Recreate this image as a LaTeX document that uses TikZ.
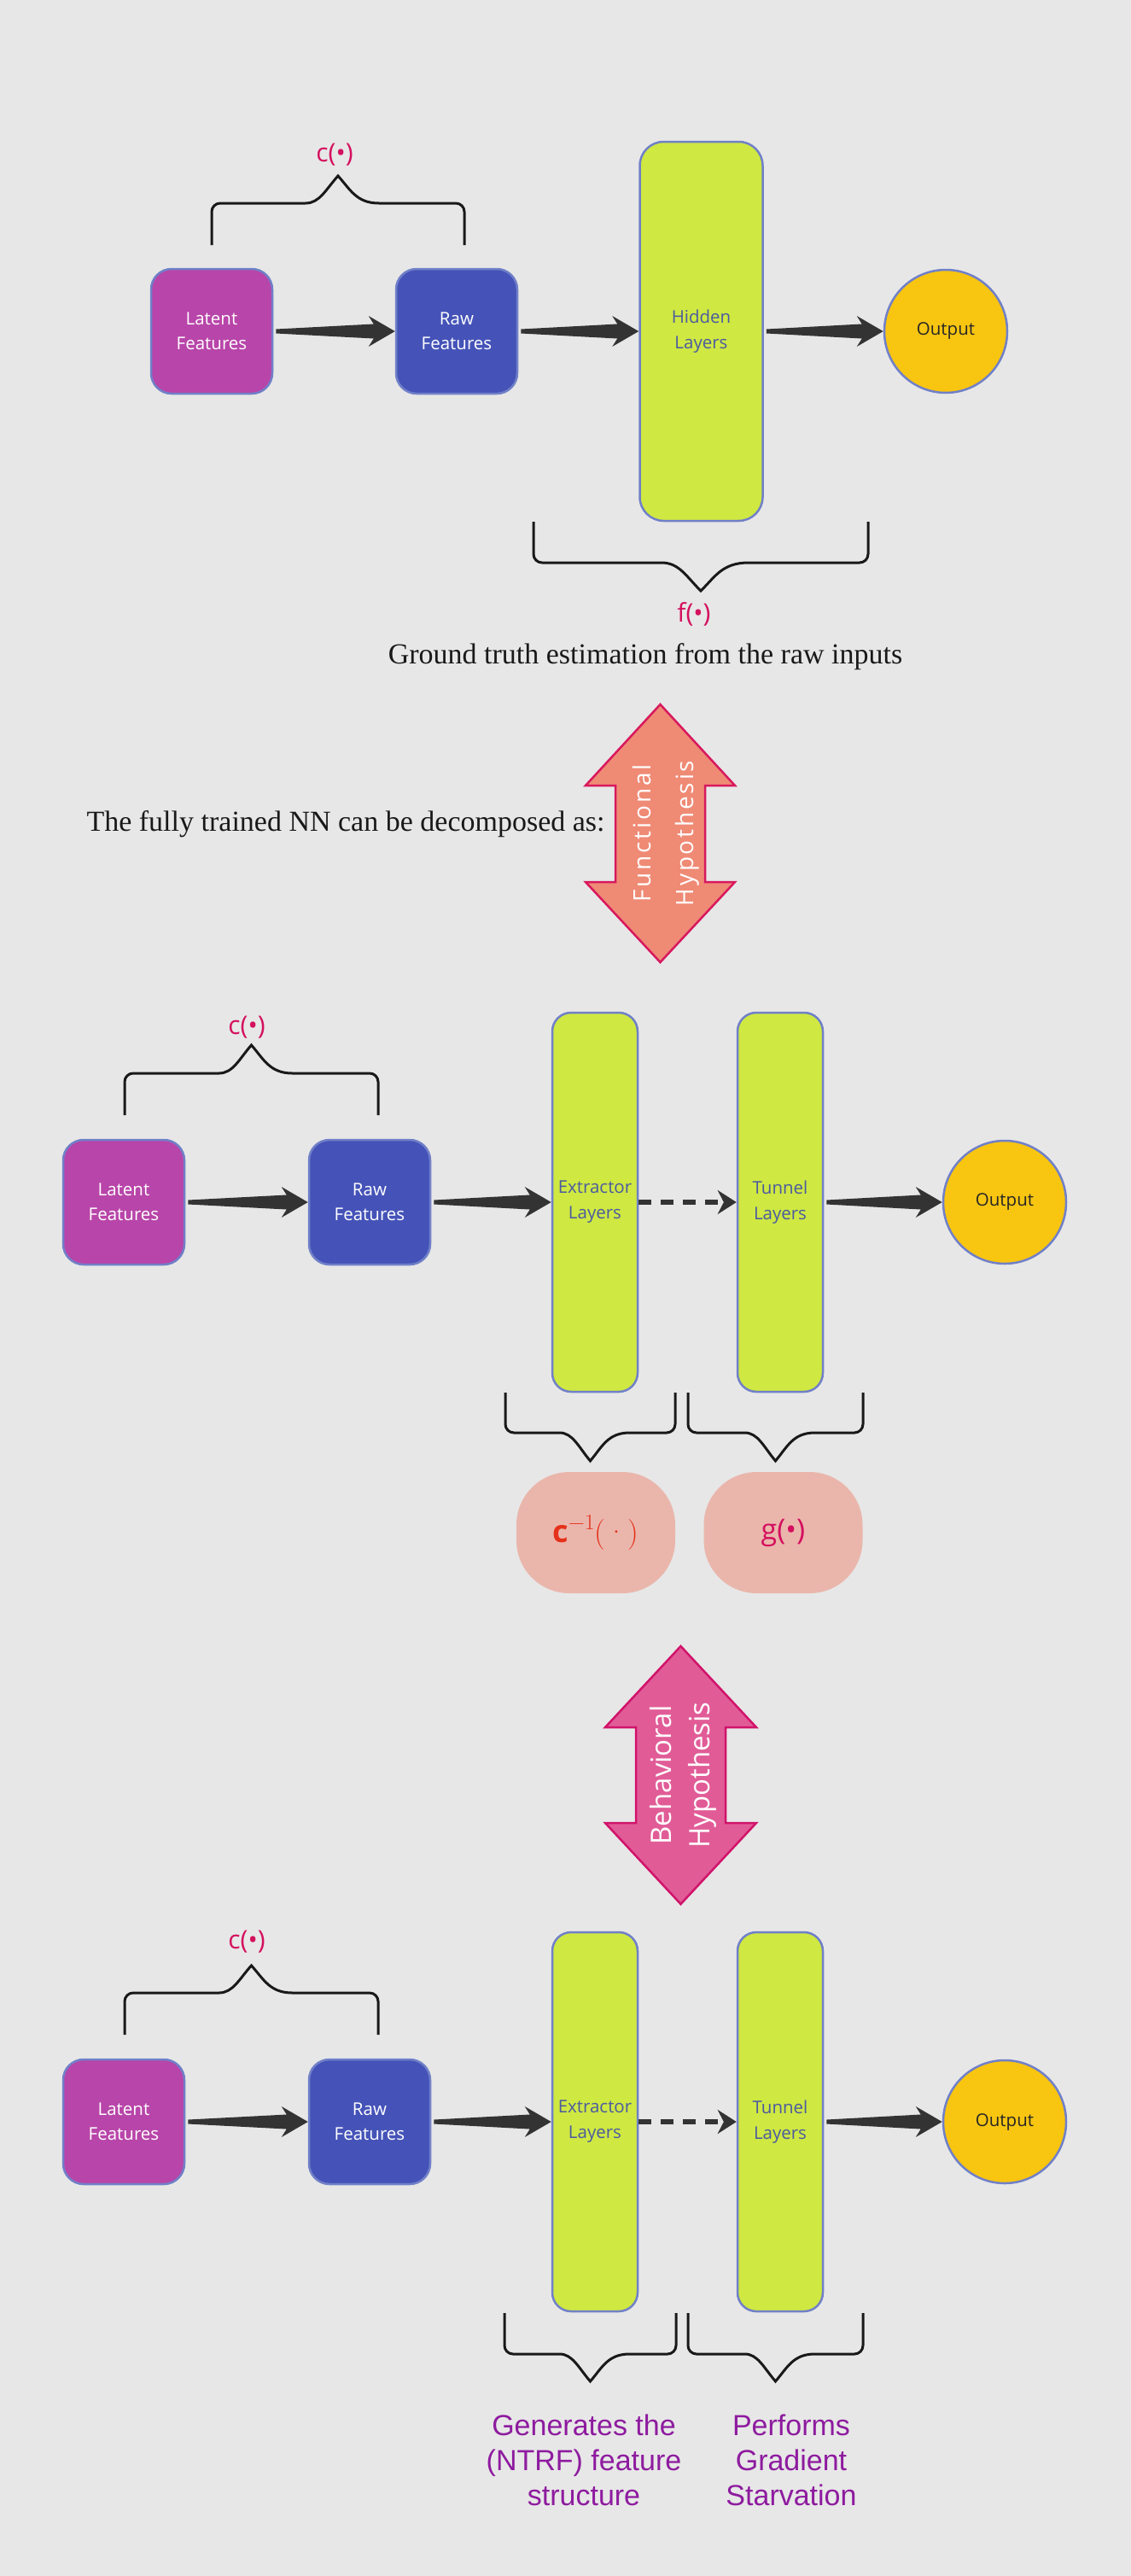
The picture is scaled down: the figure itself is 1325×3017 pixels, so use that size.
\documentclass[tikz,border=0pt]{standalone}
\usepackage{fontspec}
\usetikzlibrary{arrows.meta,calc}
\newfontfamily\boxfont{Open Sans}
\newfontfamily\hypfont[LetterSpace=10]{Open Sans}
\newfontfamily\notefont{Liberation Sans}
\newfontfamily\textserif{Liberation Serif}
\definecolor{bg}{HTML}{E7E7E7}
\definecolor{latentfill}{HTML}{B845A9}
\definecolor{rawfill}{HTML}{4553B8}
\definecolor{limefill}{HTML}{CFE842}
\definecolor{outfill}{HTML}{F8C511}
\definecolor{edge}{HTML}{7080C8}
\definecolor{layertext}{HTML}{4A5AA0}
\definecolor{arrowgray}{HTML}{333333}
\definecolor{fnlabel}{HTML}{D4105E}
\definecolor{funcfill}{HTML}{EF8A75}
\definecolor{funcedge}{HTML}{D8185E}
\definecolor{behavfill}{HTML}{E15C97}
\definecolor{behavedge}{HTML}{D1136A}
\definecolor{blobfill}{HTML}{EAB6AC}
\definecolor{invred}{HTML}{E5311A}
\definecolor{notepurple}{HTML}{8E1B9F}
\tikzset{
  latent/.style={rounded corners=24, fill=latentfill, draw=edge, line width=2.5, minimum width=142, minimum height=146, text=white, align=center, font=\boxfont\fontsize{20.5}{29}\selectfont},
  raw/.style={latent, fill=rawfill},
  layer/.style={rounded corners=22, fill=limefill, draw=edge, line width=2.5, minimum width=100, minimum height=444, text=layertext, align=center, font=\boxfont\fontsize{20.5}{30}\selectfont},
  output/.style={circle, fill=outfill, draw=edge, line width=2.5, minimum size=144, inner sep=0, text=black!85, font=\boxfont\fontsize{20.5}{29}\selectfont},
  fnlab/.style={text=fnlabel, font=\boxfont\fontsize{30}{36}\selectfont},
  blob/.style={rounded corners=62, fill=blobfill, minimum width=186, minimum height=142},
  bracepen/.style={draw=black!90, line width=3},
  dasharrow/.style={draw=arrowgray, line width=5.5, dash pattern=on 15pt off 11pt, -{Stealth[length=22pt, width=28pt]}},
  serifline/.style={font=\textserif\fontsize{34}{40}\selectfont, text=black!90},
  note/.style={text=notepurple, align=center, font=\notefont\fontsize{34}{41}\selectfont}
}
% tapered arrow from node #1 to node #2
\newcommand\fatarrow[2]{%
  \fill[arrowgray] ($(#1.east)+(3,2.5)$) -- ($(#2.west)+(-25,8.5)$) -- ($(#2.west)+(-31,18)$) -- (#2.west)
    -- ($(#2.west)+(-31,-18)$) -- ($(#2.west)+(-25,-8.5)$) -- ($(#1.east)+(3,-2.5)$) -- cycle;}
% brace: x1, x2, leg end, line, tip, half width of the bend
\newcommand\curlybrace[6]{%
  \draw[bracepen] (#1,#3) [rounded corners=10] -- (#1,#4) -- ({(#1+#2)/2-#6},#4) [sharp corners]
    .. controls ({(#1+#2)/2-0.45*#6},#4) and ({(#1+#2)/2-0.3*#6},{(#4+#5)/2}) .. ({(#1+#2)/2},#5)
    .. controls ({(#1+#2)/2+0.3*#6},{(#4+#5)/2}) and ({(#1+#2)/2+0.45*#6},#4) .. ({(#1+#2)/2+#6},#4)
    [rounded corners=10] -- (#2,#4) -- (#2,#3);}
\begin{document}
\begin{tikzpicture}[x=1pt, y=-1pt]
    % page
    \useasboundingbox (0,0) rectangle (1325,3017);
    \fill[bg] (0,0) rectangle (1325,3017);

    % top: ground truth network
    \node[latent] (lat0) at (248,388) {Latent\\Features};
    \node[raw] (raw0) at (535,388) {Raw\\Features};
    \node[layer, minimum width=144, rounded corners=28] (hid0) at (821.5,388) {Hidden\\Layers};
    \node[output] (out0) at (1108,388) {Output};
    \fatarrow{lat0}{raw0}
    \fatarrow{raw0}{hid0}
    \fatarrow{hid0}{out0}
    % c and f braces
    \curlybrace{248}{544}{287}{238}{206}{48}
    \node[fnlab] (c0) at (392,181) {c(•)};
    \curlybrace{625}{1017}{611}{659}{692}{56}
    \node[fnlab] (f0) at (813,719) {f(•)};
    \node[serifline] (gt) at (756,769) {Ground truth estimation from the raw inputs};

    % functional hypothesis
    \node[serifline, anchor=west] (decomp) at (98,965) {The fully trained NN can be decomposed as:};
    \draw[fill=funcfill, draw=funcedge, line width=2.5, line join=miter]
      (773.5,825) -- (861,920) -- (826,920) -- (826,1033) -- (861,1033) -- (773.5,1127)
      -- (686,1033) -- (721,1033) -- (721,920) -- (686,920) -- cycle;
    \node[rotate=90, text=white, align=center, font=\hypfont\fontsize{28}{50}\selectfont] (func) at (780,976) {Functional\\Hypothesis};

    % middle: decomposed network
    \node[latent] (lat1) at (145,1408) {Latent\\Features};
    \node[raw] (raw1) at (433,1408) {Raw\\Features};
    \node[layer] (ext1) at (697,1408) {Extractor\\Layers};
    \node[layer] (tun1) at (914,1408) {Tunnel\\Layers};
    \node[output] (out1) at (1177,1408) {Output};
    \fatarrow{lat1}{raw1}
    \fatarrow{raw1}{ext1}
    \draw[dasharrow] (ext1.east) -- (tun1.west);
    \fatarrow{tun1}{out1}
    \curlybrace{146}{443}{1306}{1257}{1224}{48}
    \node[fnlab] (c1) at (289,1203) {c(•)};
    \curlybrace{592}{791}{1631}{1678}{1711}{46}
    \curlybrace{806}{1011}{1631}{1678}{1711}{46}
    \node[blob, text=invred] (cinv) at (698,1795) {\fontsize{36}{40}\selectfont{\boxfont\bfseries c}\raisebox{0.42em}{\fontsize{26}{26}\selectfont\rmfamily −1}{\rmfamily(·)}};
    \node[blob, text=fnlabel] (g1) at (917.5,1795) {\boxfont\fontsize{34}{40}\selectfont g(•)};

    % behavioral hypothesis
    \draw[fill=behavfill, draw=behavedge, line width=2.5, line join=miter]
      (797.5,1928) -- (886,2023) -- (850,2023) -- (850,2135) -- (886,2135) -- (797.5,2230)
      -- (709,2135) -- (745,2135) -- (745,2023) -- (709,2023) -- cycle;
    \node[rotate=90, text=white, align=center, font=\boxfont\fontsize{33}{45}\selectfont] (behav) at (800,2079) {Behavioral\\Hypothesis};

    % bottom: roles of the two parts
    \node[latent] (lat2) at (145,2485) {Latent\\Features};
    \node[raw] (raw2) at (433,2485) {Raw\\Features};
    \node[layer] (ext2) at (697,2485) {Extractor\\Layers};
    \node[layer] (tun2) at (914,2485) {Tunnel\\Layers};
    \node[output] (out2) at (1177,2485) {Output};
    \fatarrow{lat2}{raw2}
    \fatarrow{raw2}{ext2}
    \draw[dasharrow] (ext2.east) -- (tun2.west);
    \fatarrow{tun2}{out2}
    \curlybrace{146}{443}{2383}{2334}{2302}{48}
    \node[fnlab] (c2) at (289,2274) {c(•)};
    \curlybrace{591}{792}{2709}{2757}{2789}{46}
    \curlybrace{806}{1011}{2709}{2757}{2789}{46}
    \node[note] (ntrf) at (684,2881) {Generates the\\(NTRF) feature\\structure};
    \node[note] (starve) at (927,2881) {Performs\\Gradient\\Starvation};
\end{tikzpicture}
\end{document}
